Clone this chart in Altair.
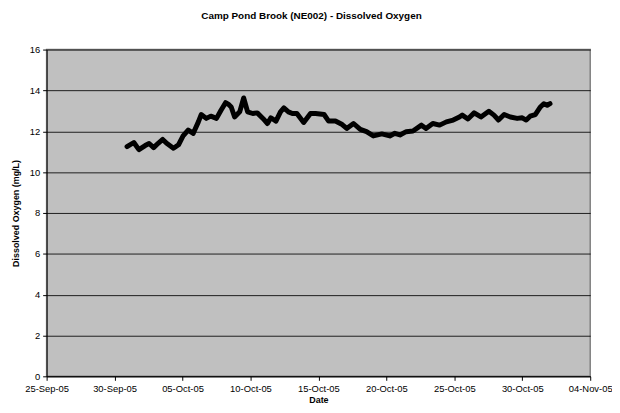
import altair as alt
import pandas as pd

times = [
    "2005-09-30 22:00", "2005-10-01 10:00", "2005-10-01 19:00", "2005-10-02 06:00",
    "2005-10-02 13:00", "2005-10-02 21:00", "2005-10-03 05:00", "2005-10-03 13:00",
    "2005-10-03 20:00", "2005-10-04 08:00", "2005-10-04 17:00", "2005-10-05 01:00",
    "2005-10-05 10:00", "2005-10-05 19:00", "2005-10-06 04:00", "2005-10-06 09:00",
    "2005-10-06 18:00", "2005-10-07 02:00", "2005-10-07 12:00", "2005-10-07 20:00",
    "2005-10-08 04:00", "2005-10-08 10:00", "2005-10-08 14:00", "2005-10-08 20:00",
    "2005-10-09 05:00", "2005-10-09 12:00", "2005-10-09 19:00", "2005-10-10 04:00",
    "2005-10-10 12:00", "2005-10-10 22:00", "2005-10-11 06:00", "2005-10-11 12:00",
    "2005-10-11 21:00", "2005-10-12 05:00", "2005-10-12 11:00", "2005-10-12 19:00",
    "2005-10-13 02:00", "2005-10-13 10:00", "2005-10-13 22:00", "2005-10-14 10:00",
    "2005-10-14 19:00", "2005-10-15 10:00", "2005-10-15 18:00", "2005-10-16 06:00",
    "2005-10-16 18:00", "2005-10-17 02:00", "2005-10-17 14:00", "2005-10-18 02:00",
    "2005-10-18 13:00", "2005-10-19 01:00", "2005-10-19 16:00", "2005-10-20 06:00",
    "2005-10-20 15:00", "2005-10-21 00:00", "2005-10-21 11:00", "2005-10-21 23:00",
    "2005-10-22 14:00", "2005-10-22 22:00", "2005-10-23 10:00", "2005-10-23 22:00",
    "2005-10-24 10:00", "2005-10-24 22:00", "2005-10-25 09:00", "2005-10-25 14:00",
    "2005-10-26 00:00", "2005-10-26 11:00", "2005-10-26 23:00", "2005-10-27 13:00",
    "2005-10-27 22:00", "2005-10-28 06:00", "2005-10-28 16:00", "2005-10-29 03:00",
    "2005-10-29 15:00", "2005-10-30 00:00", "2005-10-30 07:00", "2005-10-30 14:00",
    "2005-10-30 23:00", "2005-10-31 08:00", "2005-10-31 14:00", "2005-10-31 20:00",
    "2005-11-01 01:00",
]
do_values = [
    11.25, 11.45, 11.10, 11.30, 11.40, 11.20, 11.41, 11.60,
    11.41, 11.17, 11.34, 11.77, 12.06, 11.90, 12.46, 12.82,
    12.63, 12.74, 12.63, 13.03, 13.40, 13.30, 13.19, 12.70,
    12.95, 13.63, 12.95, 12.87, 12.90, 12.63, 12.38, 12.66,
    12.50, 12.95, 13.14, 12.95, 12.87, 12.87, 12.43, 12.87,
    12.87, 12.82, 12.50, 12.50, 12.33, 12.14, 12.38, 12.09,
    11.98, 11.77, 11.87, 11.77, 11.90, 11.82, 11.98, 12.01,
    12.30, 12.14, 12.38, 12.30, 12.46, 12.55, 12.70, 12.79,
    12.60, 12.90, 12.70, 12.98, 12.79, 12.55, 12.82, 12.70,
    12.63, 12.66, 12.55, 12.74, 12.82, 13.19, 13.35, 13.27,
    13.35,
]
tick_dates = [(2005, 9, 25), (2005, 9, 30), (2005, 10, 5), (2005, 10, 10),
              (2005, 10, 15), (2005, 10, 20), (2005, 10, 25), (2005, 10, 30),
              (2005, 11, 4)]
y_ticks = [0, 2, 4, 6, 8, 10, 12, 14, 16]

df = pd.DataFrame({"t": times, "do": do_values})

x_vals = [alt.DateTime(year=y, month=m, date=d) for (y, m, d) in tick_dates]

chart = alt.Chart(df).mark_line(
    color="black", strokeWidth=5, strokeJoin="round", strokeCap="round"
).encode(
    x=alt.X("t:T", title="Date",
            scale=alt.Scale(domain=[x_vals[0], x_vals[-1]]),
            axis=alt.Axis(values=x_vals, format="%d-%b-%y", grid=False,
                          labelAngle=0, tickSize=4, labelPadding=3,
                          domainColor="black", tickColor="black",
                          labelFlush=False, titlePadding=3)),
    y=alt.Y("do:Q", title="Dissolved Oxygen (mg/L)",
            scale=alt.Scale(domain=[0, 16], nice=False),
            axis=alt.Axis(values=y_ticks, grid=True, gridColor="black",
                          gridOpacity=0.85, tickSize=4, labelPadding=3,
                          domainColor="black", tickColor="black",
                          titlePadding=9)),
).properties(
    width=549, height=330,
    background="white",
    title=alt.TitleParams("Camp Pond Brook (NE002) - Dissolved Oxygen",
                          fontSize=10, fontWeight="bold", font="Liberation Sans",
                          offset=24, dx=-7, color="black"),
    autosize=alt.AutoSizeParams(type="none"),
    padding={"left": 39, "top": 40, "right": 22, "bottom": 31},
).configure_view(
    fill="#C0C0C0", stroke="#808080", strokeWidth=1.5
).configure_axis(
    labelFont="Liberation Sans", titleFont="Liberation Sans",
    labelFontSize=9.5, titleFontSize=9, titleFontWeight="bold",
    labelColor="black", titleColor="black"
)

chart.save("out.html", embed_options={"renderer": "svg", "actions": False})
